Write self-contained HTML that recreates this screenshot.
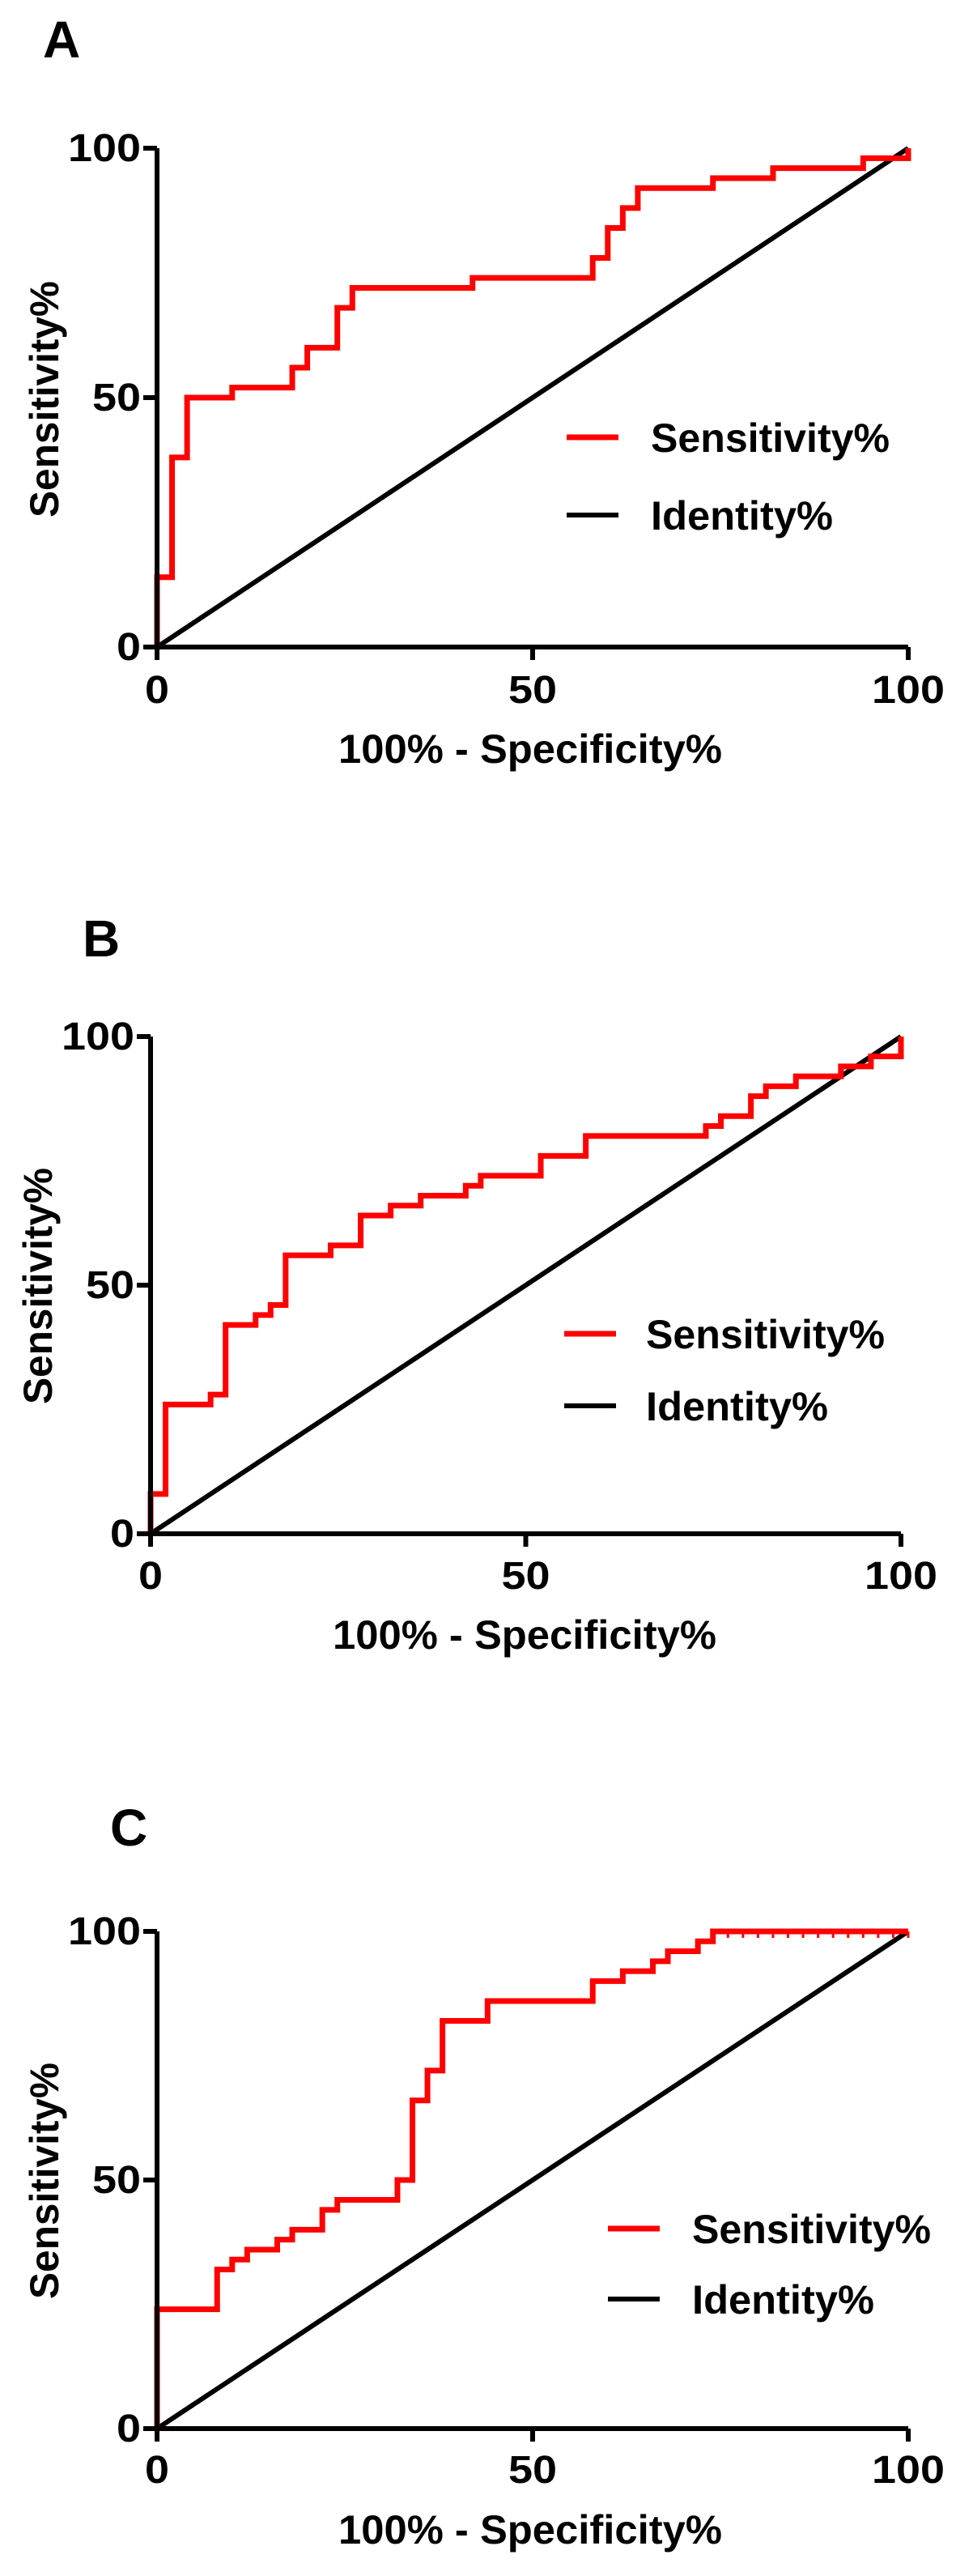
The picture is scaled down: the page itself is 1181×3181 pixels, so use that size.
<!DOCTYPE html>
<html><head><meta charset="utf-8"><style>
html,body{margin:0;padding:0;background:#fff;}
svg{display:block;}
text{font-family:"Liberation Sans",Arial,sans-serif;font-weight:bold;fill:#000;}
</style></head>
<body>
<svg id="fig" width="1181" height="3181" viewBox="0 0 1181 3181" xmlns="http://www.w3.org/2000/svg"></svg>
<script>
// Panel A data
const aFpr = [0, 2, 4, 10, 18, 20, 24, 26, 42, 58, 60, 62, 64, 74, 82, 94, 100];
const aTpr = [14, 38, 50, 52, 56, 60, 68, 72, 74, 78, 84, 88, 92, 94, 96, 98, 100];
// Panel B data
const bFpr = [0, 2, 8, 10, 14, 16, 18, 24, 28, 32, 36, 42, 44, 52, 58, 74, 76, 80, 82, 86, 92, 96, 100];
const bTpr = [8, 26, 28, 42, 44, 46, 56, 58, 64, 66, 68, 70, 72, 76, 80, 82, 84, 88, 90, 92, 94, 96, 100];
// Panel C data
const cFpr = [0, 8, 10, 12, 16, 18, 22, 24, 32, 34, 36, 38, 44, 58, 62, 66, 68, 72, 74];
const cTpr = [24, 32, 34, 36, 38, 40, 44, 46, 50, 66, 72, 82, 86, 90, 92, 94, 96, 98, 100];
const cTieX = [76, 78, 80, 82, 84, 86, 88, 90, 92, 94, 96, 98, 100];
const tickVals = [0, 50, 100];
const tickLabels = ["0", "50", "100"];
const identityX = [0, 100];
const identityY = [0, 100];

const NS = "http://www.w3.org/2000/svg";
const svg = document.getElementById("fig");
function mk(tag, attrs, parent) {
  const e = document.createElementNS(NS, tag);
  for (const k in attrs) e.setAttribute(k, attrs[k]);
  (parent || svg).appendChild(e);
  return e;
}

const panels = [
  {id:"a", letter:"A", fpr:aFpr, tpr:aTpr, x0:194, x1:1122, y0:799, y1:183, lx:53, ly:71,
   tickBase:868, titleBase:942, titleX:655, yTitleX:72, yTitleY:493, legX:700, legTX:804, legY1:540, legY2:636},
  {id:"b", letter:"B", fpr:bFpr, tpr:bTpr, x0:186, x1:1113, y0:1894, y1:1280, lx:102, ly:1181,
   tickBase:1962, titleBase:2036, titleX:648, yTitleX:64, yTitleY:1588, legX:697, legTX:798, legY1:1647, legY2:1736},
  {id:"c", letter:"C", fpr:cFpr, tpr:cTpr, x0:194, x1:1122, y0:2999, y1:2385, lx:136, ly:2279,
   tickBase:3066, titleBase:3141, titleX:655, yTitleX:72, yTitleY:2693, legX:751, legTX:855, legY1:2752, legY2:2839, ties:cTieX}
];

panels.forEach(p => {
  const g = mk("g", {});
  
  
  const sx = v => p.x0 + (p.x1 - p.x0) * v / 100;
  const sy = v => p.y0 + (p.y1 - p.y0) * v / 100;

  const L = mk("text", {x:p.lx, y:p.ly, "font-size":64}, g);
  L.textContent = p.letter;
  
  

  const id = mk("line", {x1:sx(identityX[0]), y1:sy(identityY[0]), x2:sx(identityX[1]), y2:sy(identityY[1]), stroke:"#000", "stroke-width":6}, g);
  
  

  let d = "M" + sx(0) + " " + sy(0);
  let prev = 0;
  for (let i = 0; i < p.fpr.length; i++) {
    d += " L" + sx(p.fpr[i]) + " " + sy(prev) + " L" + sx(p.fpr[i]) + " " + sy(p.tpr[i]);
    prev = p.tpr[i];
  }
  d += " L" + sx(100) + " " + sy(prev);
  const roc = mk("path", {d:d, fill:"none", stroke:"#ff0000", "stroke-width":7, "stroke-linejoin":"miter"}, g);
  
  

  if (p.ties) {
    p.ties.forEach(t => {
      const tm = mk("line", {x1:sx(t), y1:sy(100), x2:sx(t), y2:sy(100) + 8, stroke:"#ff0000", "stroke-width":3}, g);
      
      
    });
  }

  const ax = mk("path", {d:"M"+sx(0)+" "+sy(100)+" L"+sx(0)+" "+sy(0)+" L"+sx(100)+" "+sy(0), fill:"none", stroke:"#000", "stroke-width":6}, g);
  
  

  tickVals.forEach((v, i) => {
    const tx = mk("line", {x1:sx(v), y1:sy(0), x2:sx(v), y2:sy(0) + 16, stroke:"#000", "stroke-width":6}, g);
    
    
    const ty = mk("line", {x1:sx(0) - 17, y1:sy(v), x2:sx(0), y2:sy(v), stroke:"#000", "stroke-width":6}, g);
    
    
    const w = tickLabels[i].length * 30;
    const xl = mk("text", {x:sx(v), y:p.tickBase, "font-size":48, "text-anchor":"middle", textLength:w, lengthAdjust:"spacingAndGlyphs"}, g);
    xl.textContent = tickLabels[i];
    
    
    const yl = mk("text", {x:sx(0) - 20, y:sy(v) + 16, "font-size":48, "text-anchor":"end", textLength:w, lengthAdjust:"spacingAndGlyphs"}, g);
    yl.textContent = tickLabels[i];
    
    
  });

  const xt = mk("text", {x:p.titleX, y:p.titleBase, "font-size":50, "text-anchor":"middle", textLength:474, lengthAdjust:"spacingAndGlyphs"}, g);
  xt.textContent = "100% - Specificity%";
  
  

  const yt = mk("text", {x:0, y:0, "font-size":50, "text-anchor":"middle", textLength:292, lengthAdjust:"spacingAndGlyphs",
    transform:"translate(" + p.yTitleX + "," + p.yTitleY + ") rotate(-90)"}, g);
  yt.textContent = "Sensitivity%";
  
  

  const l1 = mk("line", {x1:p.legX, y1:p.legY1, x2:p.legX + 64, y2:p.legY1, stroke:"#ff0000", "stroke-width":7}, g);
  
  
  const t1 = mk("text", {x:p.legTX, y:p.legY1 + 18, "font-size":50, textLength:295, lengthAdjust:"spacingAndGlyphs"}, g);
  t1.textContent = "Sensitivity%";
  
  
  const l2 = mk("line", {x1:p.legX, y1:p.legY2, x2:p.legX + 64, y2:p.legY2, stroke:"#000", "stroke-width":6}, g);
  
  
  const t2 = mk("text", {x:p.legTX, y:p.legY2 + 18, "font-size":50, textLength:225, lengthAdjust:"spacingAndGlyphs"}, g);
  t2.textContent = "Identity%";
  
  
});
</script>
</body></html>
